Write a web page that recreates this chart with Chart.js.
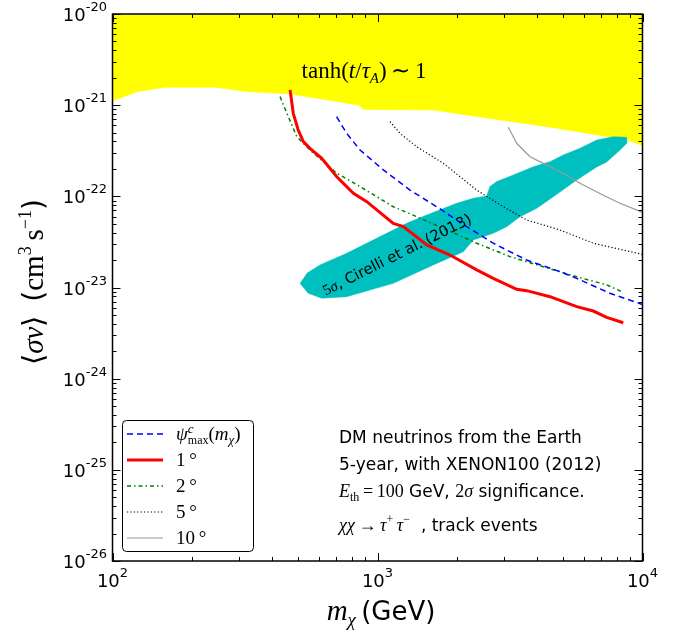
<!DOCTYPE html>
<html>
<head>
<meta charset="utf-8">
<script src="https://cdn.jsdelivr.net/npm/chart.js@4.4.0/dist/chart.umd.min.js"></script>
<style>
body { margin: 0; background: #fff; }
#wrap { width: 681px; height: 637px; }
</style>
</head>
<body>
<div id="wrap"><canvas id="myChart" width="681" height="637"></canvas></div>
<script>
// axis decades (exponents of ten)
const xTickExps = [2, 3, 4];
const yTickExps = [-26, -25, -24, -23, -22, -21, -20];

// m_chi in GeV, <sigma v> in cm^3 s^-1
const massPsi = [701, 765, 859, 1052, 1327, 1673, 2171, 2735, 3656, 4884, 5646, 7540, 10000];
const sigvPsi = [7.47e-22, 4.91e-22, 3.22e-22, 1.95e-22, 1.17e-22, 7.69e-23, 4.65e-23, 3.06e-23, 2.0e-23, 1.49e-23, 1.26e-23, 8.64e-24, 6.5e-24];

const mass1 = [468, 481, 502, 525, 556, 616, 702, 811, 911, 1147, 1252, 1534, 1877, 2368, 2735, 3352, 3656, 4477, 5646, 6522, 7326, 8463];
const sigv1 = [1.47e-21, 8.14e-22, 5.34e-22, 3.98e-22, 3.36e-22, 2.61e-22, 1.64e-22, 1.08e-22, 8.73e-23, 5.06e-23, 4.65e-23, 2.93e-23, 2.27e-23, 1.56e-23, 1.26e-23, 9.56e-24, 9.23e-24, 7.93e-24, 6.16e-24, 5.52e-24, 4.71e-24, 4.11e-24];

const mass2 = [429, 455, 496, 556, 702, 859, 1147, 1406, 1772, 2368, 3162, 4224, 5646, 7326, 8347];
const sigv2 = [1.24e-21, 8.14e-22, 4.51e-22, 3.22e-22, 1.79e-22, 1.28e-22, 7.69e-23, 5.98e-23, 4.46e-23, 3.06e-23, 2.18e-23, 1.69e-23, 1.31e-23, 1.07e-23, 9.0e-24];

const mass5 = [1115, 1216, 1406, 1772, 2368, 2983, 3656, 4884, 6522, 9950];
const sigv5 = [6.59e-22, 4.91e-22, 3.50e-22, 2.30e-22, 1.17e-22, 7.69e-23, 5.5e-23, 4.27e-23, 3.06e-23, 2.31e-23];

const mass10 = [3116, 3352, 3763, 4224, 5024, 5810, 7112, 8225, 9950];
const sigv10 = [5.72e-22, 3.82e-22, 2.72e-22, 2.30e-22, 1.79e-22, 1.39e-22, 1.03e-22, 8.39e-23, 6.72e-23];

// lower edge of the tanh(t/tau_A) ~ 1 region
const massTanh = [100, 125, 158, 244, 319, 468, 859, 882, 1620, 2900, 4362, 6735, 8740, 10000];
const sigvTanh = [1.12e-21, 1.41e-21, 1.57e-21, 1.57e-21, 1.41e-21, 1.33e-21, 9.92e-22, 8.97e-22, 8.85e-22, 6.88e-22, 5.81e-22, 4.71e-22, 4.15e-22, 3.61e-22];

// outline of the 5 sigma Cirelli et al. region
const massBand = [510, 548, 616, 765, 1147, 1624, 2108, 2299, 2735, 3073, 3449, 3989, 4608, 5646, 6718, 7326, 8225, 8740,
                  8718, 7758, 6718, 5810, 5024, 4477, 3872, 3254, 2818, 2657, 2583, 2299, 1990, 1534, 1289, 1083, 765, 607, 541];
const sigvBand = [1.11e-23, 8.64e-24, 7.62e-24, 7.93e-24, 1.11e-23, 1.77e-23, 2.47e-23, 3.32e-23, 3.93e-23, 4.65e-23, 5.98e-23, 7.39e-23, 9.91e-23, 1.51e-22, 2.10e-22, 2.38e-22, 3.22e-22, 3.85e-22,
                  4.44e-22, 4.51e-22, 4.15e-22, 3.36e-22, 2.84e-22, 2.40e-22, 2.11e-22, 1.71e-22, 1.45e-22, 1.28e-22, 1.01e-22, 9.52e-23, 8.39e-23, 6.24e-23, 5.06e-23, 3.93e-23, 2.37e-23, 1.77e-23, 1.43e-23];

const SERIF = '"Liberation Serif", serif';
const SANS = '"DejaVu Sans", sans-serif';

function pts(xs, ys) {
    return xs.map((x, i) => ({ x: x, y: ys[i] }));
}

// draw a run of text pieces: [text, font, dy, noAdvance]
function drawRuns(ctx, x, y, runs, align) {
    let w = 0;
    runs.forEach(r => { if (!r[3]) { ctx.font = r[1]; w += ctx.measureText(r[0]).width; } });
    let cx = align === 'center' ? x - w / 2 : (align === 'right' ? x - w : x);
    ctx.textAlign = 'left';
    ctx.textBaseline = 'alphabetic';
    runs.forEach(r => {
        ctx.font = r[1];
        ctx.fillText(r[0], cx, y + (r[2] || 0));
        if (!r[3]) cx += ctx.measureText(r[0]).width;
    });
}

const legendRows = [
    { color: '#0000ff', width: 1.5, dash: [6, 4] },
    { color: '#ff0000', width: 3, dash: [] },
    { color: '#008000', width: 1.5, dash: [4, 3, 1.5, 3] },
    { color: '#000000', width: 1.2, dash: [1.2, 2.2] },
    { color: '#999999', width: 1.2, dash: [] }
];

const decor = {
    id: 'decor',
    afterDatasetsDraw(chart) {
        const ctx = chart.ctx;
        const xs = chart.scales.x, ys = chart.scales.y;
        ctx.save();
        ctx.fillStyle = '#000';
        // tanh label on the yellow region
        drawRuns(ctx, 364, 78, [
            ['tanh(', '23px ' + SERIF], ['t', 'italic 23px ' + SERIF], ['/', '23px ' + SERIF],
            ['\u03c4', 'italic 23px ' + SERIF], ['A', 'italic 15px ' + SERIF, 5], [')\u2009\u223c\u20091', '23px ' + SERIF]
        ], 'center');
        // band label, rotated along the band
        ctx.translate(xs.getPixelForValue(1185), ys.getPixelForValue(2.3e-23));
        ctx.rotate(-26.5 * Math.PI / 180);
        drawRuns(ctx, 0, 5, [
            ['5', '15px ' + SERIF], ['\u03c3', 'italic 15px ' + SERIF], [', Cirelli et al. (2013)', '15px ' + SANS]
        ], 'center');
        ctx.restore();
    },
    afterDraw(chart) {
        const ctx = chart.ctx, a = chart.chartArea;
        const xs = chart.scales.x, ys = chart.scales.y;
        ctx.save();
        ctx.strokeStyle = '#000';
        ctx.fillStyle = '#000';

        // inward tick marks on all four sides
        ctx.lineWidth = 1;
        const tick = (x1, y1, x2, y2) => { ctx.beginPath(); ctx.moveTo(x1, y1); ctx.lineTo(x2, y2); ctx.stroke(); };
        xTickExps.forEach((e, i) => {
            for (let k = 1; k <= 9; k++) {
                if (k > 1 && i === xTickExps.length - 1) break;
                const px = Math.round(xs.getPixelForValue(k * Math.pow(10, e))) + 0.5;
                const len = k === 1 ? 8 : 4;
                tick(px, a.bottom, px, a.bottom - len);
                tick(px, a.top, px, a.top + len);
            }
        });
        yTickExps.forEach((e, i) => {
            for (let k = 1; k <= 9; k++) {
                if (k > 1 && i === yTickExps.length - 1) break;
                const py = Math.round(ys.getPixelForValue(k * Math.pow(10, e))) + 0.5;
                const len = k === 1 ? 8 : 4;
                tick(a.left, py, a.left + len, py);
                tick(a.right, py, a.right - len, py);
            }
        });

        // frame
        ctx.lineWidth = 1.5;
        ctx.strokeRect(a.left, a.top, a.right - a.left, a.bottom - a.top);

        // tick labels
        xTickExps.forEach(e => {
            const px = xs.getPixelForValue(Math.pow(10, e));
            drawRuns(ctx, px, a.bottom + 26, [['10', '18px ' + SANS], [String(e), '13px ' + SANS, -10]], 'center');
        });
        yTickExps.forEach(e => {
            const py = ys.getPixelForValue(Math.pow(10, e));
            drawRuns(ctx, 107, py + 7, [['10', '18px ' + SANS], [String(e), '13px ' + SANS, -10]], 'right');
        });

        // axis titles
        drawRuns(ctx, 381, 620, [
            ['m', 'italic 29px ' + SERIF], ['\u03c7', 'italic 19px ' + SERIF, 6], ['\u2009(GeV)', '26px ' + SANS]
        ], 'center');
        ctx.save();
        ctx.translate(43, 282);
        ctx.rotate(-Math.PI / 2);
        drawRuns(ctx, 0, 0, [
            ['\u27e8', '29px ' + SERIF], ['\u03c3v', 'italic 29px ' + SERIF], ['\u27e9', '29px ' + SERIF],
            ['\u2002(', '28px ' + SANS], ['cm', '29px ' + SERIF], ['3', '18px ' + SERIF, -12],
            ['\u2009s', '29px ' + SERIF], ['\u22121', '18px ' + SERIF, -12], [')', '28px ' + SANS]
        ], 'center');
        ctx.restore();

        // legend box
        ctx.lineWidth = 1;
        ctx.beginPath();
        ctx.roundRect(122.5, 420.5, 131, 131, 4);
        ctx.fillStyle = '#fff';
        ctx.fill();
        ctx.stroke();
        const labels = [
            [['\u03c8', 'italic 19px ' + SERIF], ['c', 'italic 13px ' + SERIF, -7, true], ['max', '12px ' + SERIF, 4],
             ['(', '19px ' + SERIF], ['m', 'italic 19px ' + SERIF], ['\u03c7', 'italic 13px ' + SERIF, 4], [')', '19px ' + SERIF]],
            [['1', '19px ' + SERIF], ['\u2009\u00b0', '19px ' + SERIF]],
            [['2', '19px ' + SERIF], ['\u2009\u00b0', '19px ' + SERIF]],
            [['5', '19px ' + SERIF], ['\u2009\u00b0', '19px ' + SERIF]],
            [['10', '19px ' + SERIF], ['\u2009\u00b0', '19px ' + SERIF]]
        ];
        legendRows.forEach((r, i) => {
            const y = 434 + i * 26;
            ctx.strokeStyle = r.color;
            ctx.lineWidth = r.width;
            ctx.setLineDash(r.dash);
            ctx.beginPath();
            ctx.moveTo(127, y);
            ctx.lineTo(163, y);
            ctx.stroke();
            ctx.setLineDash([]);
            ctx.fillStyle = '#000';
            drawRuns(ctx, 176, y + 6, labels[i], 'left');
        });

        // annotation text
        ctx.fillStyle = '#000';
        drawRuns(ctx, 339, 443, [['DM neutrinos from the Earth', '17px ' + SANS]], 'left');
        drawRuns(ctx, 339, 470, [['5-year, with XENON100 (2012)', '17px ' + SANS]], 'left');
        drawRuns(ctx, 339, 497, [
            ['E', 'italic 18px ' + SERIF], ['th', '12px ' + SERIF, 4], ['\u2009=\u2009100', '18px ' + SERIF],
            [' GeV, ', '17px ' + SANS], ['2', '18px ' + SERIF], ['\u03c3', 'italic 18px ' + SERIF], [' significance.', '17px ' + SANS]
        ], 'left');
        drawRuns(ctx, 339, 531, [
            ['\u03c7\u03c7', 'italic 18px ' + SERIF], ['\u2009\u2192\u2009', '18px ' + SERIF], ['\u03c4', 'italic 18px ' + SERIF],
            ['+', '12px ' + SERIF, -8], ['\u2009\u03c4', 'italic 18px ' + SERIF], ['\u2212', '12px ' + SERIF, -8],
            ['  , track events', '17px ' + SANS]
        ], 'left');
        ctx.restore();
    }
};

const ctx = document.getElementById('myChart').getContext('2d');
const myChart = new Chart(ctx, {
    type: 'line',
    data: {
        datasets: [
            { label: '1deg', data: pts(mass1, sigv1), borderColor: '#ff0000', borderWidth: 3, fill: false },
            { label: 'psi', data: pts(massPsi, sigvPsi), borderColor: '#0000ff', borderWidth: 1.5, borderDash: [6, 4], fill: false },
            { label: '2deg', data: pts(mass2, sigv2), borderColor: '#008000', borderWidth: 1.5, borderDash: [4, 3, 1.5, 3], fill: false },
            { label: '5deg', data: pts(mass5, sigv5), borderColor: '#000000', borderWidth: 1.2, borderDash: [1.2, 2.2], fill: false },
            { label: '10deg', data: pts(mass10, sigv10), borderColor: '#999999', borderWidth: 1.2, fill: false },
            { label: 'band', data: pts(massBand, sigvBand), borderColor: '#00bfbf', borderWidth: 0.5, backgroundColor: '#00bfbf', fill: 'shape' },
            { label: 'tanh', data: pts(massTanh, sigvTanh), borderColor: '#ffff00', borderWidth: 0.5, backgroundColor: '#ffff00', fill: 'end' }
        ]
    },
    options: {
        responsive: false,
        animation: false,
        layout: { padding: { left: 0, top: 14, right: 38.5, bottom: 0 } },
        elements: { point: { radius: 0 }, line: { tension: 0 } },
        plugins: { legend: { display: false }, tooltip: { enabled: false } },
        scales: {
            x: {
                type: 'logarithmic', min: 100, max: 10000,
                ticks: { display: false }, grid: { display: false }, border: { display: false },
                afterFit: s => { s.height = 76; }
            },
            y: {
                type: 'logarithmic', min: 1e-26, max: 1e-20,
                ticks: { display: false }, grid: { display: false }, border: { display: false },
                afterFit: s => { s.width = 112.5; }
            }
        }
    },
    plugins: [decor]
});
</script>
</body>
</html>
